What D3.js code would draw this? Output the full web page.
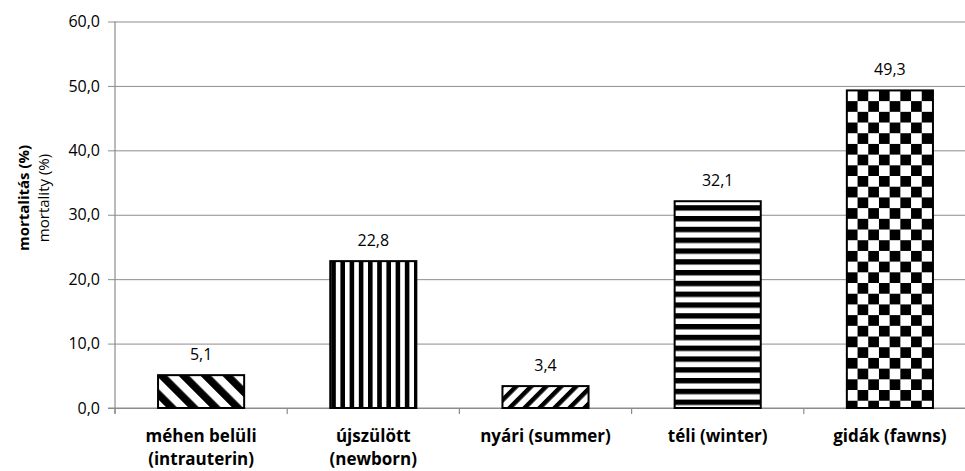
<!DOCTYPE html>
<html>
<head>
<meta charset="utf-8">
<script src="https://cdn.jsdelivr.net/npm/d3@7"></script>
<style>
  html, body { margin: 0; padding: 0; background: #fff; }
  svg { display: block; }
  text { font-family: "Open Sans", Calibri, sans-serif; fill: #000; }
</style>
</head>
<body>
<svg id="chart" width="965" height="471"></svg>
<script>
// Mortality by life stage (%)
const categories = [
  ["méhen belüli", "(intrauterin)"],
  ["újszülött", "(newborn)"],
  ["nyári (summer)"],
  ["téli (winter)"],
  ["gidák (fawns)"]
];
const values = [5.1, 22.8, 3.4, 32.1, 49.3];
const patternIds = ["diagDown", "vertical", "diagUp", "horizontal", "checker"];
const yTicks = [0, 10, 20, 30, 40, 50, 60];

const svg = d3.select("#chart");
const W = 965, H = 471;
const margin = { left: 115, right: -11, top: 21.5, bottom: 63 };
const x0 = margin.left, x1 = W - margin.right;
const yTop = margin.top, yBottom = H - margin.bottom;

const x = d3.scaleBand()
  .domain(d3.range(categories.length))
  .range([x0, x1])
  .paddingInner(0.5)
  .paddingOuter(0.25);

const y = d3.scaleLinear().domain([0, 60]).range([yBottom, yTop]);

const fmt = d => d3.format(".1f")(d).replace(".", ",");

// Fill patterns
const defs = svg.append("defs");
function stripePattern(id, period, black, angle) {
  const p = defs.append("pattern")
    .attr("id", id)
    .attr("patternUnits", "userSpaceOnUse")
    .attr("width", period).attr("height", period)
    .attr("patternTransform", `rotate(${angle})`);
  p.append("rect").attr("width", period).attr("height", period).attr("fill", "#fff");
  p.append("rect").attr("width", black).attr("height", period).attr("fill", "#000");
}
stripePattern("diagDown", 15.5, 7.5, -45);
stripePattern("diagUp", 10.6, 4.5, 45);
stripePattern("vertical", 9.2, 4.6, 0);
stripePattern("horizontal", 10.8, 5.4, 90);
{
  const s = 10.7;
  const p = defs.append("pattern")
    .attr("id", "checker")
    .attr("patternUnits", "userSpaceOnUse")
    .attr("x", x(4) + s).attr("y", y(values[4]))
    .attr("width", 2 * s).attr("height", 2 * s);
  p.append("rect").attr("width", 2 * s).attr("height", 2 * s).attr("fill", "#fff");
  p.append("rect").attr("width", s).attr("height", s).attr("fill", "#000");
  p.append("rect").attr("x", s).attr("y", s).attr("width", s).attr("height", s).attr("fill", "#000");
}

// Horizontal gridlines with left tick stubs
const yAxis = d3.axisLeft(y)
  .tickValues(yTicks)
  .tickSize(0)
  .tickFormat(fmt);
const gy = svg.append("g")
  .attr("transform", `translate(${x0 - 7},0)`)
  .call(yAxis);
gy.select(".domain").remove();
gy.selectAll(".tick line")
  .attr("stroke", "#8c8c8c").attr("stroke-width", 1)
  .attr("x1", 0).attr("x2", x1 - x0 + 7);
gy.selectAll(".tick text")
  .attr("x", -8)
  .style("font-size", "16px")
  .attr("fill", "#000");

// Vertical axis line
svg.append("line")
  .attr("x1", x0).attr("x2", x0)
  .attr("y1", yTop).attr("y2", yBottom + 6)
  .attr("stroke", "#8c8c8c").attr("stroke-width", 1.2);

// Category axis line and ticks
svg.append("line")
  .attr("x1", x0 - 7).attr("x2", W)
  .attr("y1", yBottom).attr("y2", yBottom)
  .attr("stroke", "#8c8c8c").attr("stroke-width", 1.2);
const step = x.step();
svg.append("g").selectAll("line")
  .data(d3.range(categories.length + 1))
  .join("line")
  .attr("x1", i => x0 + i * step).attr("x2", i => x0 + i * step)
  .attr("y1", yBottom).attr("y2", yBottom + 6)
  .attr("stroke", "#8c8c8c").attr("stroke-width", 1.2);

// Bars
svg.append("g").selectAll("rect")
  .data(values)
  .join("rect")
  .attr("x", (d, i) => x(i))
  .attr("y", d => y(d))
  .attr("width", x.bandwidth())
  .attr("height", d => y(0) - y(d))
  .attr("fill", (d, i) => `url(#${patternIds[i]})`)
  .attr("stroke", "#000")
  .attr("stroke-width", 2);

// Value labels
svg.append("g").selectAll("text")
  .data(values)
  .join("text")
  .attr("x", (d, i) => x(i) + x.bandwidth() / 2)
  .attr("y", d => y(d) - 15)
  .attr("text-anchor", "middle")
  .style("font-size", "16px")
  .text(fmt);

// Category labels, one text element per line
const catG = svg.append("g")
  .style("font-size", "17px")
  .style("font-weight", "bold");
categories.forEach((lines, i) => {
  lines.forEach((line, j) => {
    catG.append("text")
      .attr("x", x(i) + x.bandwidth() / 2)
      .attr("y", 442 + j * 23)
      .attr("text-anchor", "middle")
      .text(line);
  });
});

// Y axis title
const yt = svg.append("text")
  .attr("transform", `translate(0,198) rotate(-90)`)
  .attr("text-anchor", "middle");
yt.append("tspan").attr("x", 0).attr("y", 29)
  .style("font-size", "15px").style("font-weight", "bold")
  .text("mortalitás (%)");
yt.append("tspan").attr("x", 0).attr("y", 49)
  .style("font-size", "15px")
  .text("mortality (%)");
</script>
</body>
</html>
